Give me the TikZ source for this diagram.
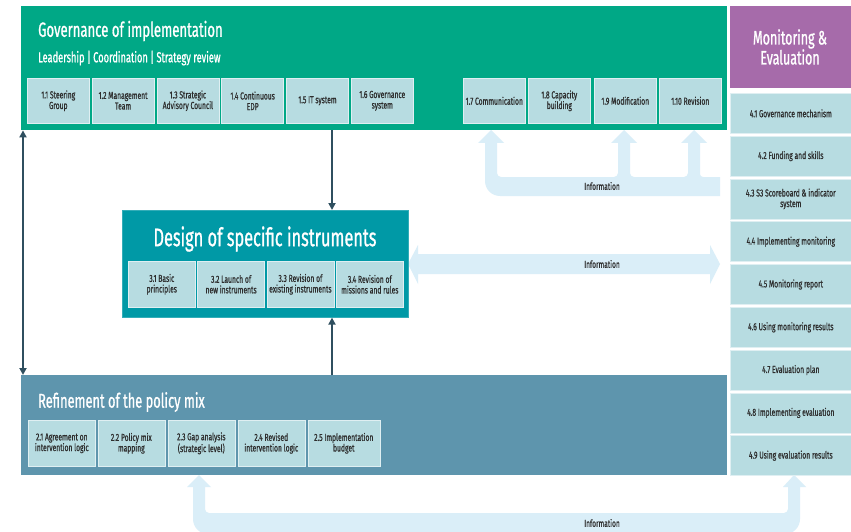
\documentclass[tikz,border=0pt]{standalone}
\usepackage{fontspec}
\setmainfont{Fira Sans}[FakeStretch=0.66]
\newfontfamily\bxfont{Fira Sans}[FakeStretch=0.66, FakeBold=0.7]
\newfontfamily\ttlfont{Fira Sans}[FakeStretch=0.64, FakeBold=0.9]
\usetikzlibrary{arrows.meta}
\definecolor{govgreen}{RGB}{0,168,134}
\definecolor{mepurple}{RGB}{166,107,170}
\definecolor{desteal}{RGB}{0,153,166}
\definecolor{refblue}{RGB}{94,149,173}
\definecolor{lightbox}{RGB}{183,220,225}
\definecolor{infoblue}{RGB}{218,238,248}
\definecolor{darkarrow}{RGB}{47,79,95}
\definecolor{boxtext}{RGB}{45,45,45}
\tikzset{
  panel/.style={draw=none, inner sep=0pt, anchor=north west},
  sbox/.style={fill=lightbox, draw=white!55!lightbox, line width=0.6pt, text=boxtext,
    align=center, font=\bxfont\fontsize{10.2}{10.6}\selectfont, inner sep=1pt, anchor=north west},
  gbox/.style={sbox, minimum width=62, minimum height=45},
  dbox/.style={sbox, minimum width=67, minimum height=46},
  rbox/.style={sbox, minimum width=67, minimum height=46},
  mbox/.style={sbox, minimum width=121, minimum height=40},
  ptitle/.style={text=white, inner sep=0pt},
  darrow/.style={draw=darkarrow, line width=2pt, -{Triangle[length=7pt,width=7pt]}},
  infofill/.style={fill=infoblue, draw=none},
  infotext/.style={text=boxtext, font=\bxfont\fontsize{10}{10}\selectfont, inner sep=0pt},
}
\begin{document}
\begin{tikzpicture}[x=1pt,y=-1pt]
\useasboundingbox (0,0) rectangle (851,532);
\fill[white] (0,0) rectangle (851,532);

% information arrows (light)
\fill[infofill] (485,143) -- (478,143) -- (491,130) -- (504,143) -- (497,143)
  [rounded corners=4pt] -- (497,177) -- (618,177) [sharp corners] -- (618,143) -- (611,143) -- (624,130) -- (637,143) -- (630,143)
  [rounded corners=4pt] -- (630,177) -- (688,177) [sharp corners] -- (688,143) -- (681,143) -- (694,130) -- (707,143) -- (700,143)
  [rounded corners=3pt] -- (700,177) [sharp corners] -- (720,177) -- (720,196)
  [rounded corners=15pt] -- (485,196) [sharp corners] -- (485,143) -- cycle;
\node[infotext] (info1) at (602,186) {Information};

\fill[infofill] (408,264) -- (418,245) -- (418,254) -- (710,254) -- (710,245) -- (720,264)
  -- (710,284) -- (710,274) -- (418,274) -- (418,284) -- cycle;
\node[infotext] (info2) at (602,264) {Information};

\fill[infofill] (193,487) -- (187,487) -- (199,475) -- (211,487) -- (205,487)
  [rounded corners=4pt] -- (205,513) -- (788,513) [sharp corners] -- (788,487) -- (783,487) -- (794,475) -- (806,487) -- (800,487)
  [rounded corners=15pt] -- (800,534) -- (193,534) [sharp corners] -- (193,487) -- cycle;
\node[infotext] (info3) at (602,523) {Information};

% panels
\node[panel, fill=govgreen, minimum width=706, minimum height=124] (gov) at (21,6) {};
\node[panel, fill=refblue, minimum width=706, minimum height=100] (ref) at (21,375) {};
\node[panel, fill=desteal, draw=white!20!desteal, line width=0.6pt, minimum width=286, minimum height=107] (des) at (122,210) {};
\node[panel, fill=mepurple, minimum width=121, minimum height=82] (me) at (730,6) {};

% titles
\node[ptitle, anchor=west, font=\ttlfont\fontsize{20.5}{22}\selectfont] (govt) at (38,31) {Governance of implementation};
\node[ptitle, anchor=west, font=\ttlfont\fontsize{14.5}{16}\selectfont] (govs) at (38,58) {Leadership | Coordination | Strategy review};
\node[ptitle, font=\ttlfont\fontsize{25.5}{28}\selectfont] (dest) at (265,239) {Design of specific instruments};
\node[ptitle, anchor=west, font=\ttlfont\fontsize{20}{23}\selectfont] (reft) at (38,402) {Refinement of the policy mix};
\node[ptitle, align=center, font=\ttlfont\fontsize{19.5}{20}\selectfont] (met) at (790,47) {Monitoring \&\\Evaluation};

% governance boxes
\node[gbox] (b11) at (27,78) {1.1 Steering\\Group};
\node[gbox] (b12) at (91.8,78) {1.2 Management\\Team};
\node[gbox] (b13) at (156.6,78) {1.3 Strategic\\Advisory Council};
\node[gbox] (b14) at (221.4,78) {1.4 Continuous\\EDP};
\node[gbox] (b15) at (286.2,78) {1.5 IT system};
\node[gbox] (b16) at (351,78) {1.6 Governance\\system};
\node[gbox] (b17) at (463,78) {1.7 Communication};
\node[gbox] (b18) at (528,78) {1.8 Capacity\\building};
\node[gbox] (b19) at (594,78) {1.9 Modification};
\node[gbox] (b110) at (659,78) {1.10 Revision};

% design boxes
\node[dbox] (b31) at (128,261) {3.1 Basic\\principles};
\node[dbox] (b32) at (197.3,261) {3.2 Launch of\\new instruments};
\node[dbox] (b33) at (266.6,261) {3.3 Revision of\\existing instruments};
\node[dbox] (b34) at (336,261) {3.4 Revision of\\missions and rules};

% refinement boxes
\node[rbox] (b21) at (28,420) {2.1 Agreement on\\intervention logic};
\node[rbox] (b22) at (97.5,420) {2.2 Policy mix\\mapping};
\node[rbox] (b23) at (167.5,420) {2.3 Gap analysis\\(strategic level)};
\node[rbox] (b24) at (237.5,420) {2.4 Revised\\intervention logic};
\node[rbox, minimum width=72] (b25) at (307.5,420) {2.5 Implementation\\budget};

% monitoring boxes
\node[mbox] (b41) at (730,93) {4.1 Governance mechanism};
\node[mbox] (b42) at (730,135.8) {4.2 Funding and skills};
\node[mbox] (b43) at (730,178.6) {4.3 S3 Scoreboard \& indicator\\system};
\node[mbox] (b44) at (730,221.4) {4.4 Implementing monitoring};
\node[mbox] (b45) at (730,264.2) {4.5 Monitoring report};
\node[mbox] (b46) at (730,307) {4.6 Using monitoring results};
\node[mbox] (b47) at (730,349.8) {4.7 Evaluation plan};
\node[mbox] (b48) at (730,392.6) {4.8 Implementing evaluation};
\node[mbox] (b49) at (730,435.4) {4.9 Using evaluation results};

% dark connectors
\coordinate (mx) at (332,0);
\draw[darrow, {Triangle[length=7pt,width=7pt]}-{Triangle[length=7pt,width=7pt]}]
  ([xshift=2pt]gov.south west) -- ([xshift=2pt]ref.north west);
\draw[darrow] (gov.south -| mx) -- (des.north -| mx);
\draw[darrow] (ref.north -| mx) -- (des.south -| mx);
\end{tikzpicture}
\end{document}
